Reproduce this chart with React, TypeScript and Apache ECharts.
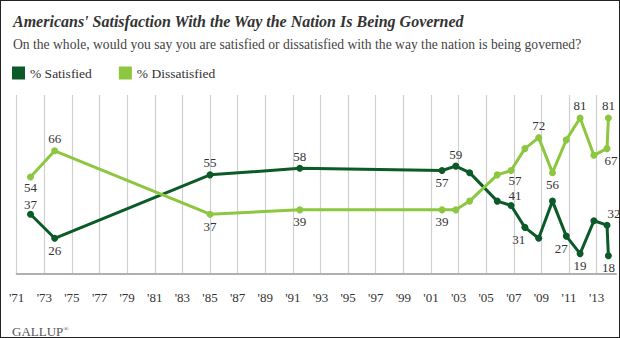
import React, { useEffect, useRef } from "react";
import * as echarts from "echarts";

const BASE_YEAR = 1971;
const years = [1972, 1973.75, 1985, 1991.5, 2001.8, 2002.8, 2003.8, 2005.8, 2006.8, 2007.8, 2008.8, 2009.8, 2010.8, 2011.8, 2012.8, 2013.75, 2013.85];
const satisfied = [37, 26, 55, 58, 57, 59, 56, 43, 41, 31, 26, 43, 27, 19, 34, 32, 18];
const dissatisfied = [54, 66, 37, 39, 39, 39, 43, 55, 57, 67, 72, 56, 71, 81, 64, 67, 81];
const seriesNames = ["% Satisfied", "% Dissatisfied"];
const titleText = "Americans' Satisfaction With the Way the Nation Is Being Governed";
const subtitleText = "On the whole, would you say you are satisfied or dissatisfied with the way the nation is being governed?";
const sourceText = "GALLUP";

type Place = { pos: "top" | "bottom"; dx?: number; d?: number };
const satPlace: Record<number, Place> = {
  0: { pos: "top", d: 0 }, 1: { pos: "bottom" }, 2: { pos: "top" }, 3: { pos: "top" },
  4: { pos: "bottom" }, 5: { pos: "top" }, 8: { pos: "top", dx: 4, d: 0 },
  9: { pos: "bottom", dx: -6 }, 12: { pos: "bottom", dx: -5 }, 13: { pos: "bottom" },
  15: { pos: "top", dx: 7 }, 16: { pos: "bottom" },
};
const disPlace: Record<number, Place> = {
  0: { pos: "bottom", d: 0 }, 1: { pos: "top" }, 2: { pos: "bottom" }, 3: { pos: "bottom" },
  4: { pos: "bottom" }, 8: { pos: "bottom", dx: 4, d: 0 }, 10: { pos: "top" },
  11: { pos: "bottom" }, 13: { pos: "top" }, 15: { pos: "bottom", dx: 4 }, 16: { pos: "top" },
};

const DARK = "#0b5a28";
const LIGHT = "#8dc63f";
const SERIF = "Liberation Serif";

function buildData(values: number[], place: Record<number, Place>) {
  return values.map((v, i) => {
    const p = place[i];
    const item: any = { value: [years[i] - BASE_YEAR, v] };
    if (p) {
      item.label = {
        show: true,
        position: p.pos,
        distance: p.d !== undefined ? p.d : 2,
        offset: [p.dx || 0, 0],
        formatter: String(v),
        fontFamily: SERIF,
        fontSize: 13,
        color: "#333",
      };
    }
    return item;
  });
}

export default function App() {
  const ref = useRef<HTMLDivElement>(null);
  useEffect(() => {
    document.body.style.margin = "0";
    if (!ref.current) return;
    const chart = echarts.init(ref.current, undefined, { renderer: "svg" });
    chart.setOption({
      animation: false,
      backgroundColor: "#fff",
      title: [
        {
          text: titleText,
          left: 8,
          top: 8,
          textStyle: { fontFamily: SERIF, fontStyle: "italic", fontWeight: "bold", fontSize: 16, color: "#333" },
        },
        {
          text: subtitleText,
          left: 8,
          top: 32,
          textStyle: { fontFamily: SERIF, fontWeight: "normal", fontSize: 13.6, color: "#444" },
        },
        {
          text: sourceText + "{r|®}",
          left: 7,
          top: 320,
          textStyle: {
            fontFamily: SERIF, fontWeight: "normal", fontSize: 13, color: "#555",
            rich: { r: { fontFamily: SERIF, fontSize: 7, color: "#555", verticalAlign: "top", padding: [0, 0, 6, 0] } },
          },
        },
      ],
      legend: {
        left: 7,
        top: 61,
        icon: "rect",
        itemWidth: 13,
        itemHeight: 13,
        itemGap: 27,
        selectedMode: false,
        data: seriesNames,
        textStyle: { fontFamily: SERIF, fontSize: 13.5, color: "#333" },
      },
      grid: { left: 16.7, right: 4, top: 95, bottom: 64.7 },
      xAxis: {
        type: "value",
        min: 0,
        max: 43.4,
        interval: 2,
        axisLine: { show: true, lineStyle: { color: "#b0b0b0", width: 2 } },
        axisTick: { show: false },
        splitLine: { show: true, showMaxLine: false, lineStyle: { color: "#cfcfcf", width: 1.2 } },
        axisLabel: {
          showMaxLabel: false,
          margin: 18,
          fontFamily: SERIF,
          fontSize: 13,
          color: "#333",
          formatter: (v: number) => "'" + String((BASE_YEAR + Math.round(v)) % 100).padStart(2, "0"),
        },
      },
      yAxis: {
        type: "value",
        min: 10,
        max: 91.5,
        show: false,
        splitLine: { show: false },
      },
      series: [
        {
          name: seriesNames[0],
          type: "line",
          data: buildData(satisfied, satPlace),
          color: DARK,
          lineStyle: { color: DARK, width: 3 },
          itemStyle: { color: DARK },
          symbol: "circle",
          symbolSize: 7,
          showAllSymbol: true,
          clip: false,
        },
        {
          name: seriesNames[1],
          type: "line",
          data: buildData(dissatisfied, disPlace),
          color: LIGHT,
          lineStyle: { color: LIGHT, width: 3 },
          itemStyle: { color: LIGHT },
          symbol: "circle",
          symbolSize: 7,
          showAllSymbol: true,
          clip: false,
        },
      ],
    });
    return () => chart.dispose();
  }, []);
  return (
    <div style={{ position: "relative", width: 620, height: 338 }}>
      <div ref={ref} style={{ position: "absolute", left: 0, top: 0, width: 620, height: 338 }} />
      <div
        style={{
          position: "absolute",
          left: 0,
          top: 0,
          width: 620,
          height: 338,
          boxSizing: "border-box",
          border: "1px solid #222",
          pointerEvents: "none",
        }}
      />
    </div>
  );
}
